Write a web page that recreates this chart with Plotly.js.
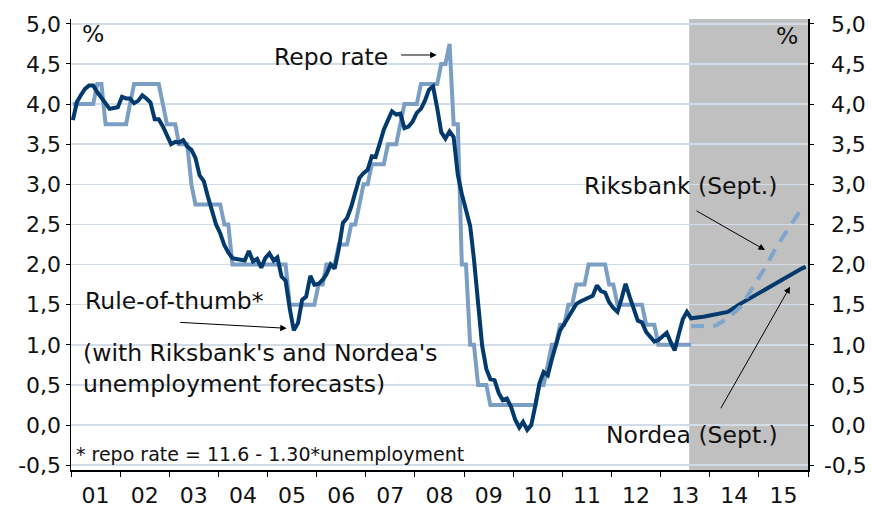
<!DOCTYPE html>
<html><head><meta charset="utf-8">
<script src="https://cdn.plot.ly/plotly-3.0.1.min.js"></script>
<style>html,body{margin:0;padding:0;background:#fff}#chart{width:872px;height:507px}</style>
</head><body><div id="chart"></div>
<script>
// ---------- DATA ----------
const firstYear = 2001; // monthly history starts Jan 2001
const histMonthCount = 152; // Jan 2001 .. Aug 2013

// Repo rate (monthly, %)
const repoRate = [
4.00,4.00,4.00,4.00,4.00,4.00,4.25,4.25,3.75,3.75,3.75,3.75,
3.75,3.75,4.00,4.25,4.25,4.25,4.25,4.25,4.25,4.25,4.00,3.75,
3.75,3.75,3.50,3.50,3.50,3.00,2.75,2.75,2.75,2.75,2.75,2.75,
2.75,2.50,2.50,2.00,2.00,2.00,2.00,2.00,2.00,2.00,2.00,2.00,
2.00,2.00,2.00,2.00,2.00,1.50,1.50,1.50,1.50,1.50,1.50,1.50,
1.75,1.75,2.00,2.00,2.00,2.25,2.25,2.25,2.50,2.50,2.75,3.00,
3.00,3.25,3.25,3.25,3.25,3.50,3.50,3.50,3.75,4.00,4.00,4.00,
4.00,4.25,4.25,4.25,4.25,4.25,4.50,4.50,4.75,3.75,3.75,2.00,
2.00,1.00,1.00,0.50,0.50,0.50,0.25,0.25,0.25,0.25,0.25,0.25,
0.25,0.25,0.25,0.25,0.25,0.25,0.50,0.50,0.75,1.00,1.00,1.25,
1.25,1.50,1.50,1.75,1.75,1.75,2.00,2.00,2.00,2.00,2.00,1.75,
1.75,1.50,1.50,1.50,1.50,1.50,1.50,1.50,1.25,1.25,1.25,1.00,
1.00,1.00,1.00,1.00,1.00,1.00,1.00,1.00
];

// Rule-of-thumb repo rate (monthly history, %)
const ruleOfThumb = [
3.80,4.03,4.11,4.19,4.23,4.23,4.15,4.08,4.02,3.94,3.95,3.96,
4.09,4.07,4.07,4.01,4.04,4.11,4.07,4.02,3.81,3.81,3.72,3.60,
3.50,3.53,3.52,3.55,3.47,3.43,3.33,3.11,3.04,2.85,2.65,2.50,
2.39,2.24,2.15,2.08,2.07,2.06,2.05,2.17,2.04,2.07,1.96,2.08,
2.14,2.05,2.09,1.85,1.80,1.45,1.18,1.27,1.56,1.60,1.86,1.75,
1.76,1.81,1.88,2.00,1.95,2.20,2.52,2.58,2.72,2.90,3.08,3.14,
3.18,3.35,3.34,3.51,3.68,3.80,3.91,3.87,3.88,3.70,3.72,3.78,
3.89,3.94,4.04,4.18,4.22,3.95,3.65,3.57,3.66,3.59,3.12,2.88,
2.70,2.48,2.07,1.53,0.99,0.70,0.57,0.56,0.40,0.31,0.33,0.23,
0.07,-0.03,0.04,-0.06,0.00,0.25,0.52,0.66,0.62,0.82,0.99,1.18,
1.26,1.35,1.42,1.51,1.54,1.56,1.58,1.61,1.74,1.67,1.65,1.53,
1.46,1.41,1.57,1.76,1.60,1.43,1.30,1.28,1.16,1.10,1.04,1.06,
1.10,1.15,1.04,0.93,1.13,1.32,1.41,1.33
];

// Rule-of-thumb with Nordea's unemployment forecast (Sept.)
const nordeaDates = ['2013-11-15','2014-02-15','2014-05-15','2014-08-15','2014-11-15','2015-02-15','2015-05-15','2015-08-15','2015-11-15','2015-12-15'];
const nordeaValues = [1.35,1.38,1.41,1.51,1.60,1.69,1.78,1.87,1.95,1.97];

// Rule-of-thumb with Riksbank's unemployment forecast (Sept.)
const riksbankDates = ['2013-08-15','2013-11-15','2014-02-15','2014-05-15','2014-08-15','2014-11-15','2015-02-15','2015-05-15','2015-08-15','2015-11-15'];
const riksbankValues = [1.23,1.23,1.24,1.33,1.47,1.71,1.96,2.23,2.46,2.70];

// Forecast period (shaded)
const forecastStart = '2013-08-01';
const axisEnd = '2016-01-01';
const axisStart = '2001-01-01';

// Tick labels
const yTickVals = [-0.5,0,0.5,1,1.5,2,2.5,3,3.5,4,4.5,5];
const yTickText = ['-0,5','0,0','0,5','1,0','1,5','2,0','2,5','3,0','3,5','4,0','4,5','5,0'];

// ---------- BUILD ----------
function monthDate(i){
  const y = firstYear + Math.floor(i/12);
  const m = (i % 12) + 1;
  return y + '-' + String(m).padStart(2,'0') + '-15';
}
const histDates = [];
for (let i = 0; i < histMonthCount; i++) histDates.push(monthDate(i));

// right-hand labels are right-aligned in the original: pad non-negative ones
const rightTickText = yTickText.map(t => t.charAt(0) === '-' ? t : '\u00A0' + t);

const FONT = 'DejaVu Sans, Verdana, sans-serif';
const DARK = '#033a6e';
const LIGHT = '#7b9ec4';
const DASHC = '#7fa5cd';

const traces = [
  {x: histDates, y: repoRate, type:'scatter', mode:'lines', line:{color:LIGHT, width:4}, hoverinfo:'skip'},
  {x: riksbankDates, y: riksbankValues, type:'scatter', mode:'lines', yaxis:'y2', line:{color:DASHC, width:4, dash:'13px,9px'}, hoverinfo:'skip'},
  {x: histDates.concat(nordeaDates), y: ruleOfThumb.concat(nordeaValues), type:'scatter', mode:'lines', line:{color:DARK, width:4}, hoverinfo:'skip'}
];

const yCommon = {
  range:[-0.56, 5.06], tickmode:'array', tickvals:yTickVals,
  ticks:'outside', ticklen:4, tickwidth:1, tickcolor:'#000',
  showline:true, linecolor:'#000', linewidth:1.5,
  zeroline:false, tickfont:{family:FONT, size:22, color:'#111'}, fixedrange:true
};

const annFont = {family:FONT, size:23.5, color:'#111'};
const layout = {
  width:872, height:507,
  margin:{l:71, r:64, t:19, b:37},
  paper_bgcolor:'#fff', plot_bgcolor:'#fff',
  showlegend:false, hovermode:false,
  xaxis:{
    type:'date', range:[axisStart, axisEnd],
    dtick:'M12', tick0:axisStart, tickformat:'%y', ticklabelmode:'period',
    ticks:'outside', ticklen:5, tickwidth:1, tickcolor:'#000',
    showline:true, linecolor:'#000', linewidth:1.5, showgrid:false, zeroline:false,
    tickfont:{family:FONT, size:22, color:'#111'}, fixedrange:true
  },
  yaxis: Object.assign({}, yCommon, {ticktext:yTickText, showgrid:true, gridcolor:'#d2dde7', gridwidth:1.5, side:'left'}),
  yaxis2: Object.assign({}, yCommon, {ticktext:rightTickText, overlaying:'y', side:'right', showgrid:false, ticklabelstandoff:6}),
  shapes:[
    {type:'rect', xref:'x', yref:'paper', x0:forecastStart, x1:axisEnd, y0:0, y1:1,
     fillcolor:'#c0c0c0', line:{width:0}, layer:'between'}
  ],
  annotations:[
    {xref:'paper', yref:'paper', x:0.012, y:0.966, text:'%', showarrow:false, xanchor:'left', yanchor:'middle', font:annFont},
    {xref:'paper', yref:'paper', x:0.989, y:0.962, text:'%', showarrow:false, xanchor:'right', yanchor:'middle', font:annFont},
    {xref:'paper', yref:'paper', x:0.433, y:0.916, text:'Repo rate', showarrow:false, xanchor:'right', yanchor:'middle', font:annFont},
    {xref:'paper', yref:'paper', x:0.4962, y:0.9202, text:'', showarrow:true, ax:-37, ay:0, arrowhead:2, arrowsize:1.3, arrowwidth:1, arrowcolor:'#000'},
    {xref:'paper', yref:'paper', x:0.961, y:0.630, text:'Riksbank (Sept.)', showarrow:false, xanchor:'right', yanchor:'middle', font:annFont},
    {xref:'paper', yref:'paper', x:0.9417, y:0.4878, text:'', showarrow:true, ax:-70, ay:-40, arrowhead:2, arrowsize:1.3, arrowwidth:1, arrowcolor:'#000'},
    {xref:'paper', yref:'paper', x:0.962, y:0.078, text:'Nordea (Sept.)', showarrow:false, xanchor:'right', yanchor:'middle', font:annFont},
    {xref:'paper', yref:'paper', x:0.9756, y:0.4064, text:'', showarrow:true, ax:-70, ay:123, arrowhead:2, arrowsize:1.3, arrowwidth:1, arrowcolor:'#000'},
    {xref:'paper', yref:'paper', x:0.016, y:0.375, text:'Rule-of-thumb*', showarrow:false, xanchor:'left', yanchor:'middle', font:annFont},
    {xref:'paper', yref:'paper', x:0.2927, y:0.3142, text:'', showarrow:true, ax:-108, ay:-6, arrowhead:2, arrowsize:1.3, arrowwidth:1, arrowcolor:'#000'},
    {xref:'paper', yref:'paper', x:0.014, y:0.224, text:"(with Riksbank's and Nordea's<br>unemployment forecasts)", showarrow:false, xanchor:'left', yanchor:'middle', align:'left', font:annFont},
    {xref:'paper', yref:'paper', x:0.004, y:0.036, text:'* repo rate = 11.6 - 1.30*unemployment', showarrow:false, xanchor:'left', yanchor:'middle', font:{family:FONT, size:19, color:'#111'}}
  ]
};

Plotly.newPlot('chart', traces, layout, {staticPlot:true, displayModeBar:false});
</script>
</body></html>
